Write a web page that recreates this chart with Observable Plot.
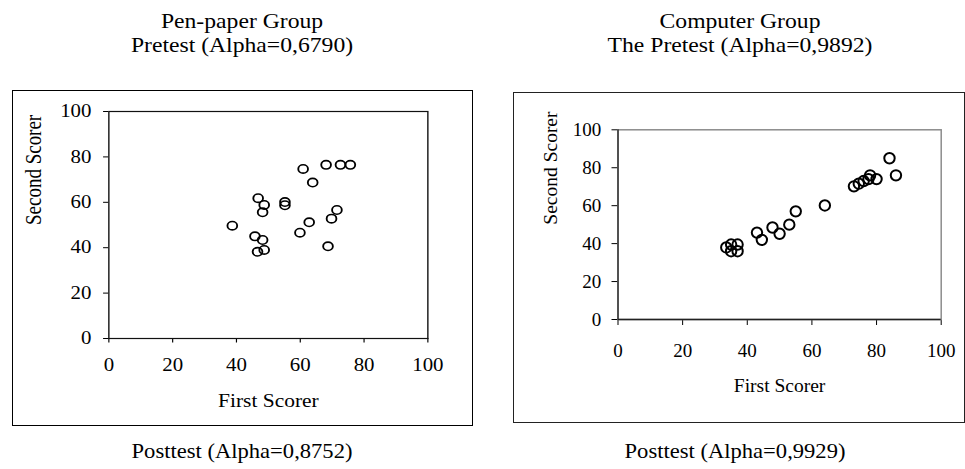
<!DOCTYPE html>
<html><head><meta charset="utf-8">
<script src="https://cdn.jsdelivr.net/npm/d3@7"></script>
<script src="https://cdn.jsdelivr.net/npm/@observablehq/plot@0.6"></script>
<style>
body{margin:0;background:#fff;width:965px;height:469px;position:relative;overflow:hidden;font-family:"Liberation Serif","Times New Roman",serif;color:#000}
.t{position:absolute;font-size:21.5px;line-height:24px;text-align:center;white-space:nowrap;width:400px}
.box{position:absolute;border:1.3px solid #000;box-sizing:border-box}
.panel{position:absolute}
</style></head><body>
<div class="box" style="left:12px;top:90px;width:461px;height:336px"></div>
<div class="box" style="left:513px;top:92px;width:452px;height:331px;border-color:#222"></div>
<div id="tl" class="t" style="left:42px;top:9px;transform:scaleX(1.1)"></div>
<div id="tr" class="t" style="left:540px;top:9px;transform:scaleX(1.1)"></div>
<div id="bl" class="t" style="left:42px;top:439px;transform:scaleX(1.05)"></div>
<div id="br" class="t" style="left:535px;top:439px;transform:scaleX(1.05)"></div>
<div id="pl" class="panel" style="left:12px;top:90px;width:397px;height:336px;transform:scaleX(1.16);transform-origin:0 0"></div>
<div id="pr" class="panel" style="left:513px;top:92px;width:451px;height:331px"></div>
<script>
const titleLeft = ["Pen-paper Group", "Pretest (Alpha=0,6790)"];
const titleRight = ["Computer Group", "The Pretest (Alpha=0,9892)"];
const bottomLeft = "Posttest (Alpha=0,8752)";
const bottomRight = "Posttest (Alpha=0,9929)";
const xLabel = "First Scorer";
const yLabel = "Second Scorer";
const tickValues = [0, 20, 40, 60, 80, 100];

const penX = [38.7,45.8,46.8,48.2,46.6,48.7,48.7,48.2,55.2,55.2,59.9,60.9,62.8,63.9,68.1,68.7,69.8,71.5,72.6,75.7];
const penY = [49.7,45.0,61.8,43.4,38.2,39.0,58.8,55.6,60.1,58.7,46.6,74.7,51.2,68.7,76.5,40.6,52.8,56.6,76.5,76.5];
const compX = [33.5,35,35,37,37,43,44.5,47.8,50,53,55,64,73,74.5,76,77.5,78,80,84,86];
const compY = [38,39.5,36,39.5,36,45.8,42,48.5,45.2,50,57,60.1,70.2,71.6,73,74,76,74,85,76];

document.getElementById("tl").innerHTML = titleLeft.join("<br>");
document.getElementById("tr").innerHTML = titleRight.join("<br>");
document.getElementById("bl").textContent = bottomLeft;
document.getElementById("br").textContent = bottomRight;

const pen = penX.map((x, i) => ({x, y: penY[i]}));
const comp = compX.map((x, i) => ({x, y: compY[i]}));
const font = "'Liberation Serif','Times New Roman',serif";

const left = Plot.plot({
  width: 397, height: 336,
  marginLeft: 83, marginRight: 39, marginTop: 21, marginBottom: 88,
  x: {domain: [0, 100], ticks: tickValues, tickSize: 4.5, tickPadding: 15, label: null},
  y: {domain: [0, 100], ticks: tickValues, tickSize: 4.5, tickPadding: 10.5, label: null},
  style: {fontFamily: font, fontSize: "18px", color: "#000", background: "transparent", overflow: "visible"},
  marks: [
    Plot.frame({stroke: "#111", strokeWidth: 1.2}),
    Plot.dot(pen, {x: "x", y: "y", r: 4.2, stroke: "#000", strokeWidth: 1.6, fill: "none"}),
    Plot.text([xLabel], {text: d => d, frameAnchor: "bottom", dy: 63, lineAnchor: "middle", fontSize: 18.5}),
    Plot.text([yLabel], {text: d => d, frameAnchor: "left", dx: -65, rotate: -90, lineAnchor: "middle", fontSize: 19})
  ]
});
document.getElementById("pl").appendChild(left);

const right = Plot.plot({
  width: 451, height: 331,
  marginLeft: 104.5, marginRight: 23.3, marginTop: 37.3, marginBottom: 104,
  x: {domain: [0, 100], ticks: tickValues, tickSize: 6, tickPadding: 17.5, label: null},
  y: {domain: [0, 100], ticks: tickValues, tickSize: 6, tickPadding: 10.8, label: null},
  style: {fontFamily: font, fontSize: "19px", color: "#000", background: "transparent", overflow: "visible"},
  marks: [
    Plot.frame({stroke: "#8c8c8c", strokeWidth: 1.5}),
    Plot.ruleX([0], {stroke: "#222", strokeWidth: 1.3}),
    Plot.ruleY([0], {stroke: "#222", strokeWidth: 1.3}),
    Plot.dot(comp, {x: "x", y: "y", r: 5.2, stroke: "#000", strokeWidth: 2, fill: "none"}),
    Plot.text([xLabel], {text: d => d, frameAnchor: "bottom", dy: 66, lineAnchor: "middle", fontSize: 19.5}),
    Plot.text([yLabel], {text: d => d, frameAnchor: "left", dx: -67, rotate: -90, lineAnchor: "middle", fontSize: 19.5})
  ]
});
document.getElementById("pr").appendChild(right);
</script>
</body></html>
